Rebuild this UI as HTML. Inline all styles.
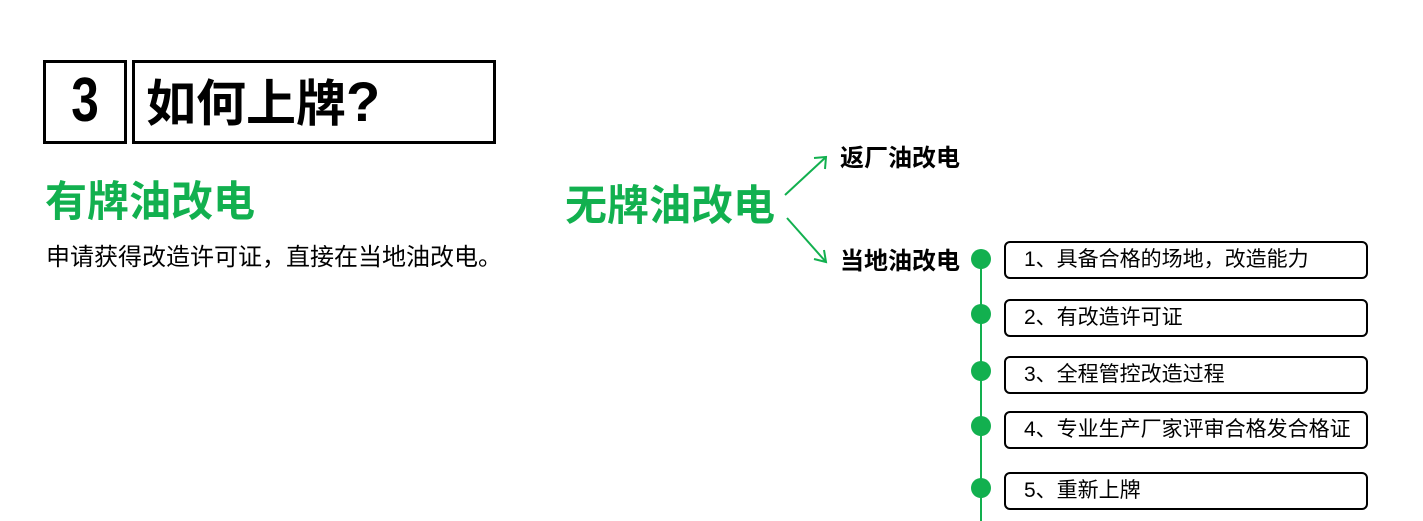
<!DOCTYPE html>
<html><head><meta charset="utf-8"><style>
body{margin:0;width:1423px;height:521px;background:#fff;position:relative;overflow:hidden;font-family:"Liberation Sans","Noto Sans CJK SC",sans-serif}
.a{position:absolute;white-space:nowrap}
.box{position:absolute;border:2px solid #000;border-radius:6px;box-sizing:border-box;width:364px;height:38px;left:1004px;font-size:21px;line-height:34px;padding-left:18px;color:#000}
.dot{position:absolute;width:20px;height:20px;border-radius:50%;background:#12b04f;left:971px}
</style></head><body>
<div class="a" style="left:43px;top:60px;width:84px;height:84px;border:3px solid #000;box-sizing:border-box;"></div>
<div class="a" style="left:43px;top:62px;width:84px;text-align:center;font:bold 62px/78px 'Liberation Sans Narrow','Liberation Sans',sans-serif;transform:scaleX(0.8)">3</div>
<div class="a" style="left:132px;top:60px;width:364px;height:84px;border:3px solid #000;box-sizing:border-box;font-size:50px;font-weight:bold;line-height:78px;padding-left:11px">如何上牌<span style="font-size:56px">?</span></div>
<div class="a" style="left:45px;top:176px;font-size:42px;font-weight:bold;color:#12b04f;line-height:52px">有牌油改电</div>
<div class="a" style="left:46px;top:243px;font-size:24px;line-height:30px;color:#000">申请获得改造许可证，直接在当地油改电。</div>
<div class="a" style="left:565px;top:180px;font-size:42px;font-weight:bold;color:#12b04f;line-height:52px">无牌油改电</div>
<div class="a" style="left:840px;top:144px;font-size:24px;font-weight:bold;line-height:30px">返厂油改电</div>
<div class="a" style="left:840px;top:247px;font-size:24px;font-weight:bold;line-height:30px">当地油改电</div>
<svg class="a" style="left:0;top:0" width="1423" height="521">
<g stroke="#12b04f" stroke-width="2" fill="none">
<line x1="785" y1="195" x2="826" y2="157"/><polyline points="814,158 826,157 825,169"/>
<line x1="787" y1="218" x2="826" y2="262"/><polyline points="824,250 826,262 814,259"/>
<line x1="981" y1="259" x2="981" y2="521"/>
</g></svg>
<div class="dot" style="top:249px"></div><div class="dot" style="top:304px"></div><div class="dot" style="top:361px"></div><div class="dot" style="top:416px"></div><div class="dot" style="top:478px"></div>
<div class="box" style="top:241px">1、具备合格的场地，改造能力</div>
<div class="box" style="top:299px">2、有改造许可证</div>
<div class="box" style="top:356px">3、全程管控改造过程</div>
<div class="box" style="top:411px">4、专业生产厂家评审合格发合格证</div>
<div class="box" style="top:472px">5、重新上牌</div>
</body></html>
